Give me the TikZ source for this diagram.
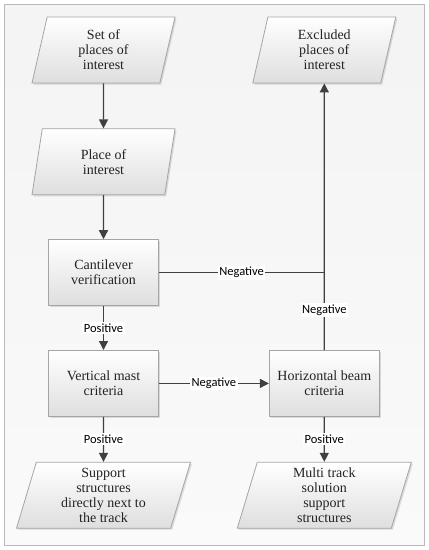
\documentclass[tikz,border=0pt]{standalone}
\usepackage{fontspec}
\newfontfamily\labelfont{Carlito}
\newfontfamily\boxfont{Liberation Serif}
\usetikzlibrary{arrows.meta,positioning,shapes.geometric,shadows}
\definecolor{framegray}{RGB}{185,185,185}
\definecolor{edgegray}{RGB}{165,165,165}
\definecolor{linegray}{RGB}{64,64,64}
\definecolor{fillgray}{RGB}{222,222,222}
\definecolor{textgray}{RGB}{35,35,35}
\tikzset{
  frame/.style={
    draw=framegray,
    line width=0.8pt,
    top color=gray!9,
    bottom color=gray!4
  },
  procbox/.style={
    draw=edgegray,
    line width=0.8pt,
    top color=white,
    bottom color=fillgray,
    minimum width=110pt,
    minimum height=66pt,
    align=center,
    text=textgray,
    font=\boxfont\fontsize{14}{15}\selectfont,
    drop shadow={shadow xshift=1.5pt, shadow yshift=-1.5pt, opacity=0.25, fill=gray}
  },
  iobox/.style={procbox, trapezium, trapezium left angle=72, trapezium right angle=108,
    trapezium stretches body, minimum width=143pt, inner xsep=0pt},
  wideio/.style={iobox, minimum width=174pt},
  arrow/.style={-{Triangle[length=9pt,width=9pt]}, line width=1.3pt, draw=linegray},
  line/.style={line width=1.3pt, draw=linegray},
  edgelabel/.style={fill=white, inner sep=1.5pt, text=black, font=\labelfont\fontsize{12.5}{14}\selectfont}
}
\begin{document}
\begin{tikzpicture}[x=1pt, y=1pt, node distance=45pt and 110pt]
  \useasboundingbox (0,0) rectangle (429,-550);
  \draw[frame] (4,-4) rectangle (424,-545);
  \node[iobox] (set) at (103.5,-50) {Set of\\places of\\interest};
  \node[iobox, below=of set] (place) {Place of\\interest};
  \node[procbox, below=44pt of place] (cant) {Cantilever\\verification};
  \node[procbox, below=44pt of cant] (vmast) {Vertical mast\\criteria};
  \node[wideio, below=of vmast] (support) {Support\\structures\\directly next to\\the track};
  \node[procbox, right=of vmast] (hbeam) {Horizontal beam\\criteria};
  \node[wideio, below=of hbeam] (multi) {Multi track\\solution\\support\\structures};
  \node[iobox] (excl) at (hbeam |- set) {Excluded\\places of\\interest};
  \coordinate (join) at (cant.east -| hbeam.north);
  \draw[arrow] (set) -- (place);
  \draw[arrow] (place) -- (cant);
  \draw[arrow] (cant) -- node[edgelabel] {Positive} (vmast);
  \draw[arrow] (vmast) -- node[edgelabel] {Negative} (hbeam);
  \draw[arrow] (vmast) -- node[edgelabel] {Positive} (support);
  \draw[arrow] (hbeam) -- node[edgelabel] {Positive} (multi);
  \draw[line] (cant) -- node[edgelabel] {Negative} (join);
  \draw[arrow] (hbeam) -- node[edgelabel, pos=0.15] {Negative} (excl);
\end{tikzpicture}
\end{document}
